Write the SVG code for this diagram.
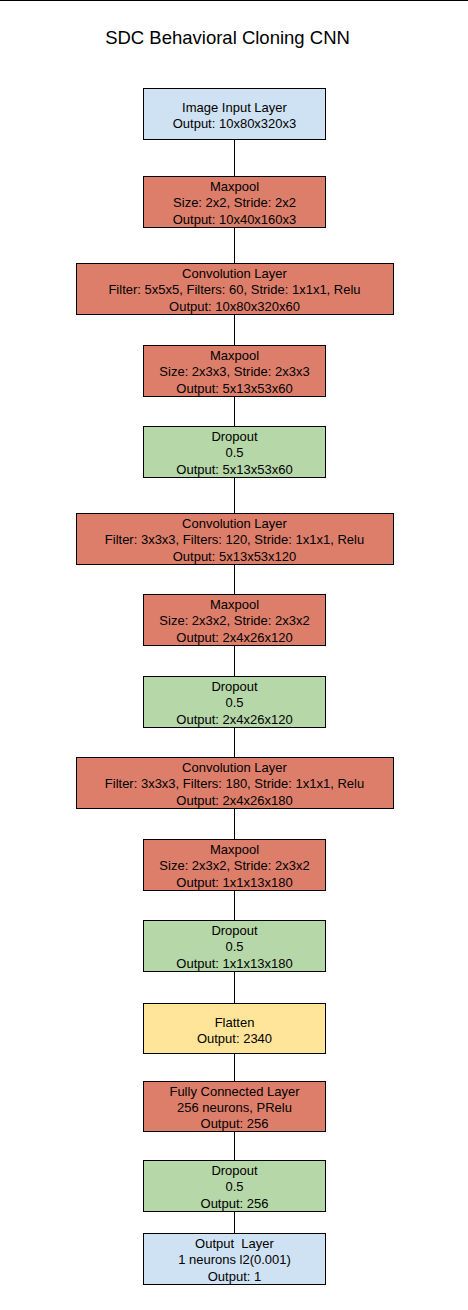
<svg xmlns="http://www.w3.org/2000/svg" width="468" height="1310" viewBox="0 0 468 1310">
<style>
.bx{stroke:#000;stroke-width:1}
.blue{fill:#cfe2f3}.red{fill:#dd7e6b}.green{fill:#b6d7a8}.yellow{fill:#ffe599}
text{font-family:"Liberation Sans",Arial,sans-serif;font-size:13px;fill:#000;text-anchor:middle}
.title{font-size:18.5px}
.con line{stroke:#000;stroke-width:1}
</style>
<rect x="0" y="0" width="468" height="1310" fill="#fff"/>
<line x1="0" y1="0.5" x2="468" y2="0.5" stroke="#000" stroke-width="1"/>
<text class="title" x="227.5" y="43.5">SDC Behavioral Cloning CNN</text>
<g class="con" id="connectors">
<line x1="234.5" y1="139" x2="234.5" y2="176"/>
<line x1="234.5" y1="227" x2="234.5" y2="263"/>
<line x1="234.5" y1="314" x2="234.5" y2="345"/>
<line x1="234.5" y1="396" x2="234.5" y2="426"/>
<line x1="234.5" y1="477" x2="234.5" y2="513"/>
<line x1="234.5" y1="564" x2="234.5" y2="594"/>
<line x1="234.5" y1="645" x2="234.5" y2="676"/>
<line x1="234.5" y1="727" x2="234.5" y2="757"/>
<line x1="234.5" y1="808" x2="234.5" y2="839"/>
<line x1="234.5" y1="890" x2="234.5" y2="920"/>
<line x1="234.5" y1="971" x2="234.5" y2="1003"/>
<line x1="234.5" y1="1054" x2="234.5" y2="1081"/>
<line x1="234.5" y1="1132" x2="234.5" y2="1160"/>
<line x1="234.5" y1="1211" x2="234.5" y2="1233"/>
</g>
<g id="input">
<rect class="bx blue" x="143.5" y="88.5" width="182" height="51"/>
<text x="234.5" y="112">Image Input Layer</text>
<text x="234.5" y="128">Output: 10x80x320x3</text>
</g>
<g id="maxpool1">
<rect class="bx red" x="143.5" y="176.5" width="182" height="51"/>
<text x="234.5" y="190.5">Maxpool</text>
<text x="234.5" y="207">Size: 2x2, Stride: 2x2</text>
<text x="234.5" y="223.5">Output: 10x40x160x3</text>
</g>
<g id="conv1">
<rect class="bx red" x="76.5" y="263.5" width="317" height="51"/>
<text x="234.5" y="277.5">Convolution Layer</text>
<text x="234.5" y="294">Filter: 5x5x5, Filters: 60, Stride: 1x1x1, Relu</text>
<text x="234.5" y="310.5">Output: 10x80x320x60</text>
</g>
<g id="maxpool2">
<rect class="bx red" x="143.5" y="345.5" width="182" height="51"/>
<text x="234.5" y="359.5">Maxpool</text>
<text x="234.5" y="376">Size: 2x3x3, Stride: 2x3x3</text>
<text x="234.5" y="392.5">Output: 5x13x53x60</text>
</g>
<g id="dropout1">
<rect class="bx green" x="143.5" y="426.5" width="182" height="51"/>
<text x="234.5" y="440.5">Dropout</text>
<text x="234.5" y="457">0.5</text>
<text x="234.5" y="473.5">Output: 5x13x53x60</text>
</g>
<g id="conv2">
<rect class="bx red" x="76.5" y="513.5" width="317" height="51"/>
<text x="234.5" y="527.5">Convolution Layer</text>
<text x="234.5" y="544">Filter: 3x3x3, Filters: 120, Stride: 1x1x1, Relu</text>
<text x="234.5" y="560.5">Output: 5x13x53x120</text>
</g>
<g id="maxpool3">
<rect class="bx red" x="143.5" y="594.5" width="182" height="51"/>
<text x="234.5" y="608.5">Maxpool</text>
<text x="234.5" y="625">Size: 2x3x2, Stride: 2x3x2</text>
<text x="234.5" y="641.5">Output: 2x4x26x120</text>
</g>
<g id="dropout2">
<rect class="bx green" x="143.5" y="676.5" width="182" height="51"/>
<text x="234.5" y="690.5">Dropout</text>
<text x="234.5" y="707">0.5</text>
<text x="234.5" y="723.5">Output: 2x4x26x120</text>
</g>
<g id="conv3">
<rect class="bx red" x="76.5" y="757.5" width="317" height="51"/>
<text x="234.5" y="771.5">Convolution Layer</text>
<text x="234.5" y="788">Filter: 3x3x3, Filters: 180, Stride: 1x1x1, Relu</text>
<text x="234.5" y="804.5">Output: 2x4x26x180</text>
</g>
<g id="maxpool4">
<rect class="bx red" x="143.5" y="839.5" width="182" height="51"/>
<text x="234.5" y="853.5">Maxpool</text>
<text x="234.5" y="870">Size: 2x3x2, Stride: 2x3x2</text>
<text x="234.5" y="886.5">Output: 1x1x13x180</text>
</g>
<g id="dropout3">
<rect class="bx green" x="143.5" y="920.5" width="182" height="51"/>
<text x="234.5" y="934.5">Dropout</text>
<text x="234.5" y="951">0.5</text>
<text x="234.5" y="967.5">Output: 1x1x13x180</text>
</g>
<g id="flatten">
<rect class="bx yellow" x="143.5" y="1003.5" width="182" height="50"/>
<text x="234.5" y="1027">Flatten</text>
<text x="234.5" y="1043">Output: 2340</text>
</g>
<g id="fc">
<rect class="bx red" x="143.5" y="1081.5" width="182" height="50"/>
<text x="234.5" y="1095.5">Fully Connected Layer</text>
<text x="234.5" y="1112">256 neurons, PRelu</text>
<text x="234.5" y="1128">Output: 256</text>
</g>
<g id="dropout4">
<rect class="bx green" x="143.5" y="1160.5" width="182" height="51"/>
<text x="234.5" y="1174.5">Dropout</text>
<text x="234.5" y="1191">0.5</text>
<text x="234.5" y="1207.5">Output: 256</text>
</g>
<g id="output">
<rect class="bx blue" x="143.5" y="1233.5" width="182" height="51"/>
<text x="234.5" y="1247.5" xml:space="preserve">Output  Layer</text>
<text x="234.5" y="1264">1 neurons l2(0.001)</text>
<text x="234.5" y="1280.5">Output: 1</text>
</g>
</svg>
